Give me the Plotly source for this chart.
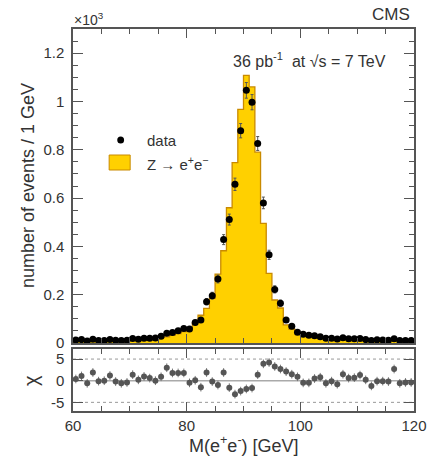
import numpy as np
import plotly.graph_objects as go

# 1 GeV bins of the e+e- invariant mass, 60-120 GeV
bin_edges = list(range(60, 121))
bin_centers = [e + 0.5 for e in range(60, 120)]

# observed events per bin
data_counts = [
    12, 14, 8, 16, 10, 10, 15, 11, 10, 11,
    19, 16, 20, 20, 21, 28, 40, 44, 51, 60,
    58, 85, 95, 171, 196, 265, 428, 511, 657, 879,
    1046, 997, 826, 580, 365, 222, 165, 95, 69, 45,
    36, 32, 30, 26, 20, 20, 17, 22, 18, 18,
    19, 14, 10, 13, 12, 11, 18, 10, 10, 10,
]

# simulated Z -> e+e- expectation per bin
mc_counts = [
    10, 10, 10, 10, 10, 10, 11, 11, 11, 12,
    14, 15, 16, 18, 21, 23, 25, 33, 39, 47,
    62, 82, 115, 143, 185, 285, 382, 560, 747, 967,
    1108, 1060, 790, 495, 288, 178, 145, 75, 58, 39,
    39, 35, 27, 22, 23, 20, 21, 16, 16, 16,
    14, 13, 14, 13, 12, 12, 10, 12, 11, 11,
]

# per-bin pull (data - expectation) / error
chi_vals = [
    0.4, 1.1, -0.6, 1.9, -0.1, 0.0, 1.2, -0.2, -0.6, -0.4,
    1.4, 0.2, 1.0, 0.6, 0.0, 0.9, 3.0, 1.8, 1.8, 1.8,
    -0.5, 0.1, -1.5, 1.9, -0.2, -1.0, 1.9, -1.6, -3.1, -2.4,
    -1.9, -1.7, 1.4, 3.9, 4.2, 3.3, 2.7, 2.1, 1.5, 0.9,
    -0.5, -0.5, 0.5, 0.8, -0.6, -0.1, -0.8, 1.5, 0.6, 0.7,
    1.3, 0.2, -1.2, -0.1, -0.1, -0.2, 2.7, -0.6, -0.4, -0.4,
]

y_tickvals = [0, 200, 400, 600, 800, 1000, 1200]
y_ticktext = ["0", "0.2", "0.4", "0.6", "0.8", "1", "1.2"]
chi_tickvals = [-5, 0, 5]
chi_ticktext = ["-5", "0", "5"]

FONT = "Liberation Sans, Arial, sans-serif"
TXT = "#333333"
FRAME = "#555555"
FILL = "#FFD000"
EDGE = "#C98A00"

W, H = 439, 457
ML, MR, MT, MB = 73, 17, 29, 46
PW, PH = W - ML - MR, H - MT - MB


def px(x):
    return (x - ML) / PW


def py(y):
    return (H - MB - y) / PH


fig = go.Figure()

# expectation as a filled step histogram
fig.add_trace(go.Scatter(
    x=bin_edges, y=mc_counts + [mc_counts[-1]],
    mode="lines", line=dict(shape="hv", color=EDGE, width=1.3),
    fill="tozeroy", fillcolor=FILL, hoverinfo="skip",
    xaxis="x", yaxis="y", showlegend=False,
))

# data points with Poisson errors
fig.add_trace(go.Scatter(
    x=bin_centers, y=data_counts, mode="markers",
    marker=dict(color="black", size=7),
    error_y=dict(type="data", array=np.sqrt(data_counts).tolist(),
                 color="#555555", thickness=1, width=1.5),
    xaxis="x", yaxis="y", showlegend=False,
))

# pull panel
fig.add_trace(go.Scatter(
    x=bin_centers, y=chi_vals, mode="markers",
    marker=dict(color="#555555", size=6),
    error_y=dict(type="constant", value=1, color="#777777",
                 thickness=1, width=0),
    xaxis="x2", yaxis="y2", showlegend=False,
))

axis_common = dict(
    showline=True, linecolor=FRAME, linewidth=1.5, mirror="ticks",
    ticks="inside", tickcolor=FRAME, showgrid=False, zeroline=False,
    tickfont=dict(family=FONT, size=15, color=TXT),
)

fig.update_layout(
    width=W, height=H,
    margin=dict(l=ML, r=MR, t=MT, b=MB),
    paper_bgcolor="white", plot_bgcolor="white",
    hovermode=False,
    xaxis=dict(
        axis_common, domain=[0, 1], anchor="y", range=[60, 120],
        tickmode="linear", tick0=60, dtick=20, ticklen=9,
        showticklabels=False,
        minor=dict(tickmode="linear", tick0=60, dtick=5, ticks="inside",
                   ticklen=5, tickcolor=FRAME),
    ),
    yaxis=dict(
        axis_common, domain=[0.178, 1], anchor="x", range=[0, 1300],
        tickmode="array", tickvals=y_tickvals, ticktext=y_ticktext,
        ticklen=10, ticklabelstandoff=4,
        minor=dict(tickmode="linear", tick0=0, dtick=50, ticks="inside",
                   ticklen=5, tickcolor=FRAME),
    ),
    xaxis2=dict(
        axis_common, domain=[0, 1], anchor="y2", range=[60, 120],
        matches="x", tickmode="linear", tick0=60, dtick=20, ticklen=9,
        minor=dict(tickmode="linear", tick0=60, dtick=5, ticks="inside",
                   ticklen=5, tickcolor=FRAME),
    ),
    yaxis2=dict(
        axis_common, domain=[0, 0.162], anchor="x2", range=[-7, 7.3],
        tickmode="array", tickvals=chi_tickvals, ticktext=chi_ticktext,
        ticklen=10, ticklabelstandoff=4,
    ),
)

# reference lines in the pull panel
fig.add_shape(type="line", xref="x2 domain", yref="y2", x0=0, x1=1, y0=0, y1=0,
              line=dict(color="#aaaaaa", width=1.5), layer="below")
for lvl in (-5, 5):
    fig.add_shape(type="line", xref="x2 domain", yref="y2", x0=0, x1=1,
                  y0=lvl, y1=lvl, line=dict(color="#999999", width=1, dash="dot"),
                  layer="below")

# legend keys
fig.add_shape(type="circle", xref="paper", yref="paper",
              x0=px(118.3), x1=px(125.3), y0=py(143.5), y1=py(136.5),
              fillcolor="black", line=dict(width=0))
fig.add_shape(type="rect", xref="paper", yref="paper",
              x0=px(110), x1=px(131.5), y0=py(170), y1=py(155),
              fillcolor=FILL, line=dict(color=EDGE, width=1))


def label(text, x, y, size, xanchor="center", angle=0, color=TXT):
    fig.add_annotation(
        text=text, xref="paper", yref="paper", x=px(x), y=py(y),
        xanchor=xanchor, yanchor="middle", showarrow=False,
        textangle=angle, font=dict(family=FONT, size=size, color=color),
    )


label("data", 147, 140, 15, xanchor="left")
label("Z \u2192 e<sup>+</sup>e<sup>\u2212</sup>", 147, 163, 15, xanchor="left")
label("CMS", 398, 15, 17)
label("36 pb<sup>-1</sup>\u00a0 at \u221as = 7 TeV", 315, 60, 16)
label("\u00d710<sup>3</sup>", 72, 19, 14, xanchor="left")
label("number of events / 1 GeV", 27, 186, 18, angle=-90)
label("\u03c7", 30, 380, 20, angle=-90)
label("M(e<sup>+</sup>e<sup>-</sup>) [GeV]", 247.5, 444, 18)

fig.write_html("out.html", config={"displayModeBar": False})
